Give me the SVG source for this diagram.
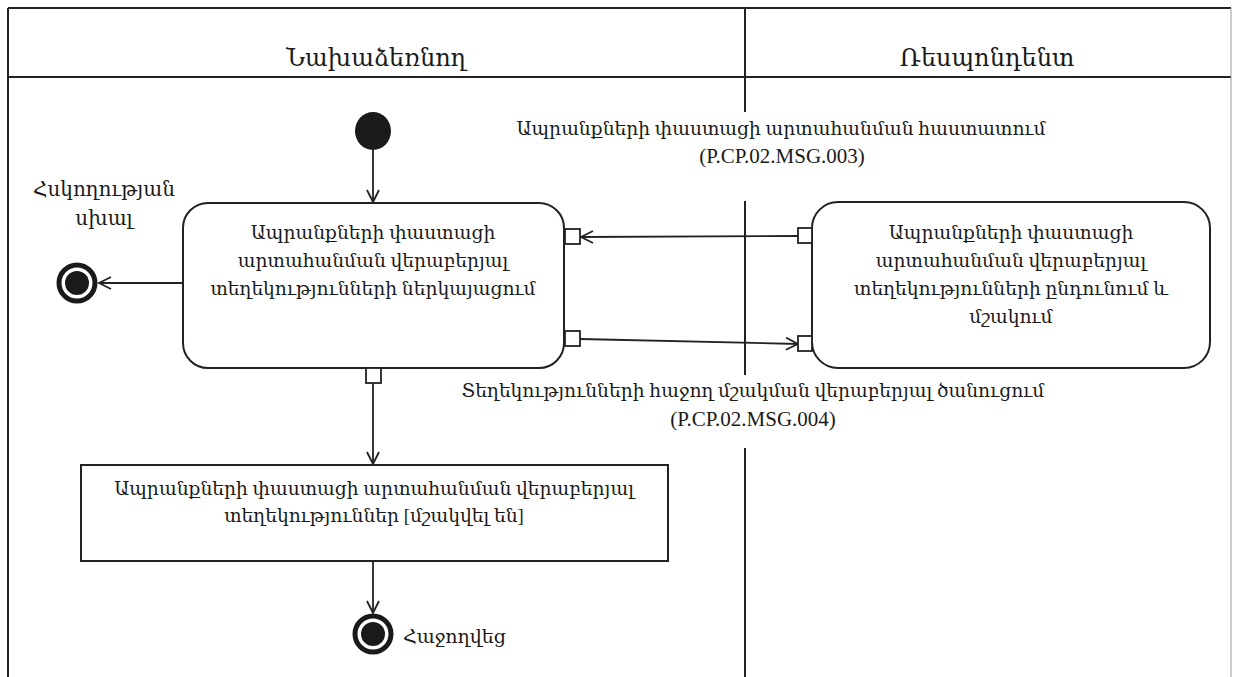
<svg xmlns="http://www.w3.org/2000/svg" width="1234" height="677" viewBox="0 0 1234 677">
<defs>
<style>
.t{font-family:'Liberation Serif','DejaVu Serif',serif;font-size:18.7px;fill:#1a1a1a;text-anchor:middle}
.h{font-size:24px}
.l{font-size:20px}
.c{font-size:21px}
.ln{stroke:#222;stroke-width:2;fill:none}
.box{fill:#fff;stroke:#222;stroke-width:2}
.port{fill:#fff;stroke:#222;stroke-width:1.8}
.con{stroke:#222;stroke-width:1.8;fill:none;marker-end:url(#arr)}
</style>
<marker id="arr" markerUnits="userSpaceOnUse" markerWidth="16" markerHeight="16" refX="13" refY="7" orient="auto">
<path d="M1,1 L13,7 L1,13" fill="none" stroke="#222" stroke-width="1.8"/>
</marker>
</defs>
<rect width="1234" height="677" fill="#fff"/>
<g id="lanes">
<line class="ln" x1="8" y1="8" x2="1231" y2="8"/>
<line class="ln" x1="8" y1="77" x2="1231" y2="77"/>
<line class="ln" x1="8" y1="8" x2="8" y2="677"/>
<line x1="1231" y1="8" x2="1231" y2="677" stroke="#999" stroke-width="1"/>
<line class="ln" x1="745" y1="8" x2="745" y2="112"/>
<line class="ln" x1="745" y1="201" x2="745" y2="375"/>
<line class="ln" x1="745" y1="448" x2="745" y2="677"/>
<text class="t h" x="376" y="66">Նախաձեռնող</text>
<text class="t h" x="987" y="66">Ռեսպոնդենտ</text>
</g>
<g id="connectors">
<line class="con" x1="373" y1="150" x2="373" y2="202"/>
<line class="con" x1="183" y1="283" x2="99" y2="283"/>
<line class="con" x1="798" y1="236" x2="581" y2="237"/>
<line class="con" x1="580" y1="339" x2="798" y2="344"/>
<line class="con" x1="373" y1="383" x2="373" y2="464"/>
<line class="con" x1="373" y1="561" x2="373" y2="613"/>
<text class="t" x="781" y="135">Ապրանքների փաստացի արտահանման հաստատում</text>
<text class="t c" x="782" y="163">(P.CP.02.MSG.003)</text>
<text class="t" x="753" y="397">Տեղեկությունների հաջող մշակման վերաբերյալ ծանուցում</text>
<text class="t c" x="753" y="426">(P.CP.02.MSG.004)</text>
</g>
<g id="start">
<ellipse cx="373" cy="131" rx="18" ry="19" fill="#1a1a1a"/>
</g>
<g id="present">
<rect class="box" x="183" y="203" width="381" height="165" rx="25"/>
<rect class="port" x="565" y="229" width="15" height="15"/>
<rect class="port" x="565" y="331" width="15" height="15"/>
<rect class="port" x="366" y="368" width="15" height="15"/>
<text class="t" x="373" y="239">Ապրանքների փաստացի</text>
<text class="t" x="373" y="267">արտահանման վերաբերյալ</text>
<text class="t" x="373" y="295">տեղեկությունների ներկայացում</text>
</g>
<g id="receive">
<rect class="box" x="812" y="202" width="398" height="166" rx="26"/>
<rect class="port" x="798" y="228" width="14" height="15"/>
<rect class="port" x="798" y="336" width="14" height="15"/>
<text class="t" x="1011" y="239">Ապրանքների փաստացի</text>
<text class="t" x="1011" y="267">արտահանման վերաբերյալ</text>
<text class="t" x="1011" y="295">տեղեկությունների ընդունում և</text>
<text class="t" x="1011" y="323">մշակում</text>
</g>
<g id="processed">
<rect class="box" x="81" y="465" width="587" height="96"/>
<text class="t" x="374" y="495">Ապրանքների փաստացի արտահանման վերաբերյալ</text>
<text class="t" x="374" y="522">տեղեկություններ [մշակվել են]</text>
</g>
<g id="error-end">
<circle cx="77" cy="283" r="18" fill="#fff" stroke="#1a1a1a" stroke-width="5"/>
<circle cx="77" cy="283" r="12" fill="#1a1a1a"/>
<text class="t l" x="104" y="196">Հսկողության</text>
<text class="t l" x="104" y="225">սխալ</text>
</g>
<g id="success-end">
<circle cx="373" cy="634" r="18" fill="#fff" stroke="#1a1a1a" stroke-width="5"/>
<circle cx="373" cy="634" r="12" fill="#1a1a1a"/>
<text class="t" x="403" y="643" style="text-anchor:start;font-size:19px">Հաջողվեց</text>
</g>
</svg>
